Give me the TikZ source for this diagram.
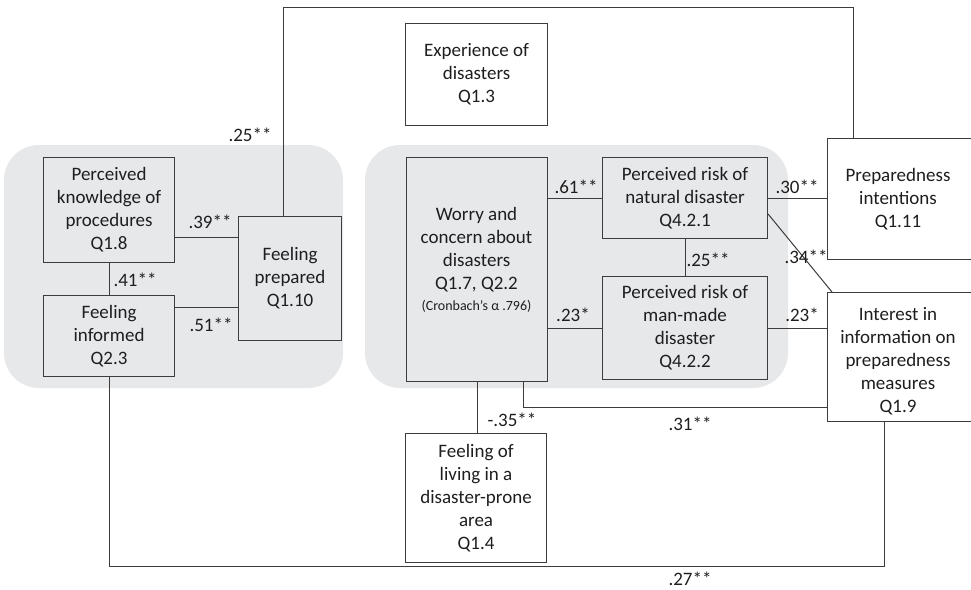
\documentclass[tikz,border=0pt]{standalone}
\usepackage{fontspec}
\setmainfont{Carlito}
\definecolor{regiongray}{RGB}{231,232,234}
\definecolor{linegray}{RGB}{60,60,60}
\definecolor{txtgray}{RGB}{30,30,30}
\begin{document}
\begin{tikzpicture}[x=1pt,y=-1pt,
  box/.style={draw=linegray, line width=1.1pt, inner sep=0pt, align=center, anchor=north west,
    text=txtgray, font=\fontsize{19}{23}\selectfont},
  txt/.style={inner sep=0pt, align=center, text=txtgray, font=\fontsize{19}{23}\selectfont},
  lbl/.style={inner sep=0pt, text=txtgray, font=\fontsize{19}{23}\selectfont},
  conn/.style={draw=linegray, line width=1pt},
  region/.style={fill=regiongray, rounded corners=35pt}]
\useasboundingbox (0,0) rectangle (971,589);
% grey groups
\fill[region] (4,145) rectangle (343,388);
\fill[region] (365,145) rectangle (788,388);
% left group
\node[box, minimum width=131pt, minimum height=105pt] (pk) at (43,157) {Perceived\\knowledge of\\procedures\\Q1.8};
\node[box, minimum width=131pt, minimum height=81pt] (fi) at (43,295) {Feeling\\informed\\Q2.3};
\node[box, minimum width=103pt, minimum height=124pt] (fp) at (238,216) {Feeling\\prepared\\Q1.10};
% centre group
\node[box, minimum width=141pt, minimum height=224pt] (worry) at (406,157) {};
\node[txt] (wtxt) at (476.5,250) {Worry and\\concern about\\disasters\\Q1.7, Q2.2};
\node[txt, font=\fontsize{14}{16}\selectfont] (cron) at (476.5,306) {(Cronbach’s α .796)};
\node[box, minimum width=165pt, minimum height=81pt] (prn) at (602,157) {Perceived risk of\\natural disaster\\Q4.2.1};
\node[box, minimum width=165pt, minimum height=103pt] (prm) at (602,276) {Perceived risk of\\man-made\\disaster\\Q4.2.2};
% others
\node[box, minimum width=142pt, minimum height=102pt] (exp) at (405,23) {Experience of\\disasters\\Q1.3};
\node[box, minimum width=141pt, minimum height=129pt] (flda) at (405,433) {Feeling of\\living in a\\disaster-prone\\area\\Q1.4};
\node[box, minimum width=150pt, minimum height=121pt] (pi) at (827,138) {};
\node[txt] (pitxt) at (898,199) {Preparedness\\intentions\\Q1.11};
\node[box, minimum width=150pt, minimum height=129pt] (iip) at (827,292) {};
\node[txt] (iiptxt) at (898,361) {Interest in\\information on\\preparedness\\measures\\Q1.9};
% helper coordinates
\coordinate (t1) at (283,7);
\coordinate (t2) at (853,7);
\coordinate (b1) at (523,407);
\coordinate (c1) at (108,566);
\coordinate (c2) at (884,566);
% connectors
\draw[conn] (pk.east |- 0,237) -- (fp.west |- 0,237);
\draw[conn] (fi.east |- 0,307) -- (fp.west |- 0,307);
\draw[conn] (pk.south) -- (fi.north);
\draw[conn] (fp.north -| t1) -- (t1) -- (t2) -- (pi.north -| t2);
\draw[conn] (worry.east |- prn.west) -- (prn.west);
\draw[conn] (worry.east |- prm.west) -- (prm.west);
\draw[conn] (prn.south) -- (prn.south |- prm.north);
\draw[conn] (prn.east) -- (prn.east -| pi.west);
\draw[conn] ([yshift=-16pt]prn.east) -- ([xshift=5pt]iip.north west);
\draw[conn] (prm.east) -- (prm.east -| iip.west);
\draw[conn] (worry.south -| b1) -- (b1) -- (iip.west |- b1);
\draw[conn] (worry.south) -- (worry.south |- flda.north);
\draw[conn] (fi.south) -- (fi.south |- c1) -- (c2) -- (iip.south -| c2);
% coefficients
\node[lbl] (l39) at (210,222) {.39**};
\node[lbl] (l51) at (211,325) {.51**};
\node[lbl] (l41) at (135,280) {.41**};
\node[lbl] (l25a) at (250,135) {.25**};
\node[lbl] (l61) at (576,187) {.61**};
\node[lbl] (l23a) at (573,315) {.23*};
\node[lbl] (l25b) at (708,260) {.25**};
\node[lbl] (l30) at (797,187) {.30**};
\node[lbl] (l34) at (806,257) {.34**};
\node[lbl] (l23b) at (802,315) {.23*};
\node[lbl] (l35) at (512,420) {-.35**};
\node[lbl] (l31) at (690,424) {.31**};
\node[lbl] (l27) at (690,579) {.27**};
\end{tikzpicture}
\end{document}
